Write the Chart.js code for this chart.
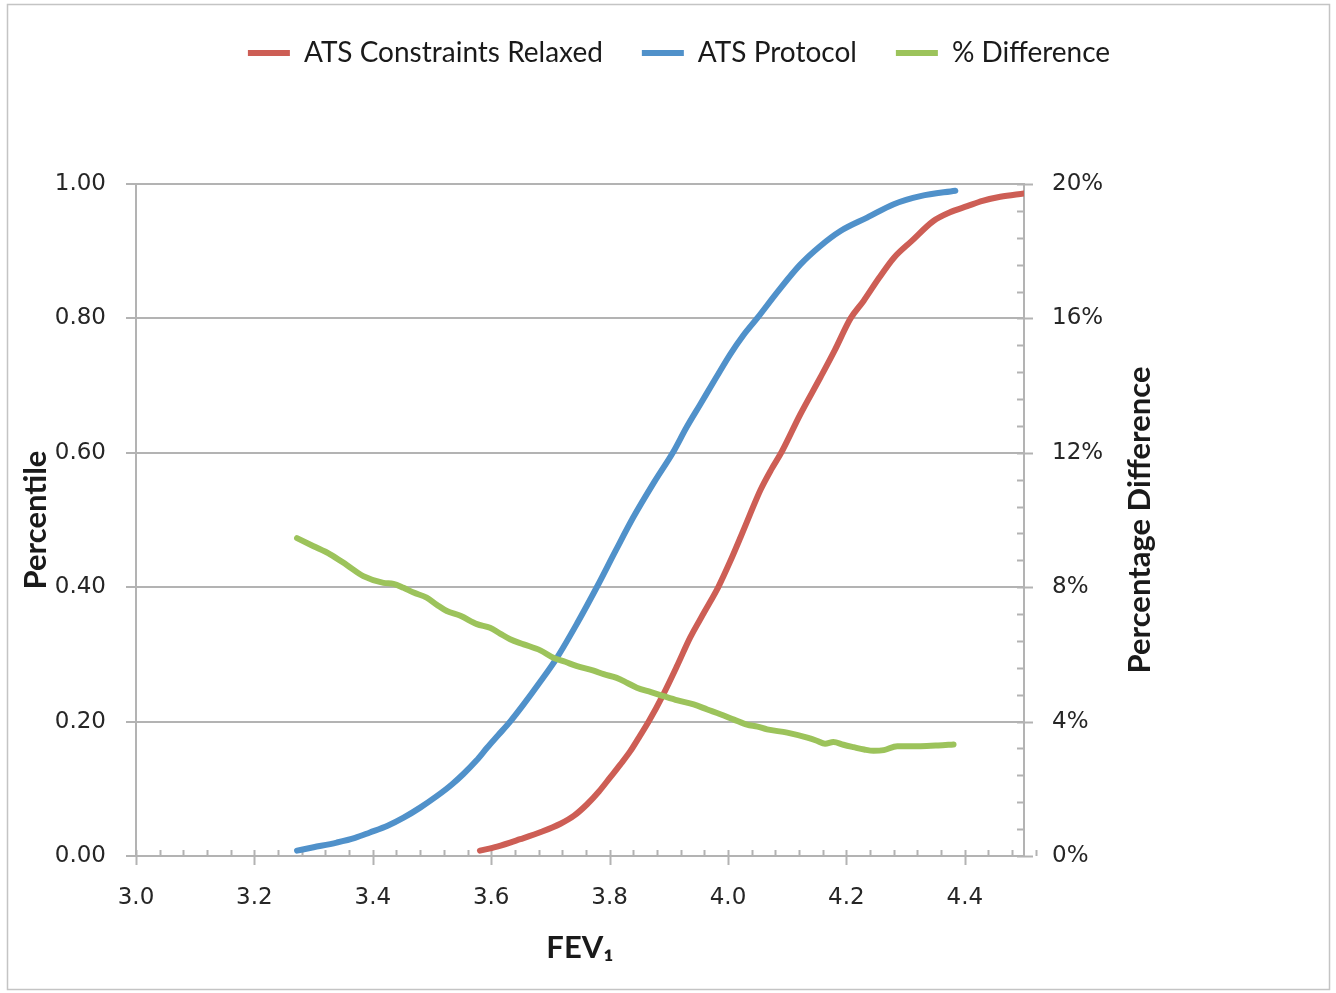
<!DOCTYPE html>
<html><head><meta charset="utf-8">
<script src="https://cdn.jsdelivr.net/npm/chart.js@4"></script>
<style>html,body{margin:0;padding:0;background:#fff}</style>
</head><body>
<canvas id="c" width="1336" height="993"></canvas>
<script>
// ---- data ----
const seriesNames = ['ATS Constraints Relaxed', 'ATS Protocol', '% Difference'];
const relaxedFEV = [3.581,3.610,3.649,3.685,3.717,3.740,3.762,3.782,3.801,3.818,3.835,3.850,3.866,3.891,3.914,3.936,3.960,3.984,4.003,4.021,4.037,4.055,4.073,4.091,4.122,4.156,4.180,4.207,4.229,4.255,4.280,4.310,4.347,4.375,4.404,4.430,4.460,4.500];
const relaxedPct = [0.008,0.014,0.025,0.036,0.048,0.060,0.077,0.096,0.117,0.136,0.156,0.177,0.200,0.241,0.283,0.325,0.363,0.401,0.437,0.474,0.508,0.545,0.575,0.602,0.657,0.712,0.752,0.800,0.826,0.860,0.890,0.915,0.945,0.958,0.967,0.975,0.981,0.986];
const protocolFEV = [3.272,3.300,3.339,3.370,3.395,3.425,3.452,3.480,3.508,3.533,3.553,3.575,3.593,3.612,3.632,3.655,3.680,3.711,3.745,3.779,3.810,3.840,3.875,3.908,3.930,3.953,3.980,4.004,4.026,4.049,4.085,4.122,4.155,4.190,4.235,4.280,4.325,4.384];
const protocolPct = [0.008,0.013,0.020,0.027,0.035,0.045,0.057,0.072,0.089,0.106,0.122,0.142,0.161,0.180,0.200,0.226,0.256,0.295,0.346,0.401,0.454,0.504,0.556,0.602,0.638,0.672,0.712,0.747,0.775,0.800,0.841,0.880,0.907,0.930,0.950,0.970,0.982,0.990];
const diffFEV = [3.272,3.300,3.328,3.356,3.384,3.418,3.435,3.452,3.469,3.491,3.508,3.525,3.548,3.576,3.598,3.615,3.632,3.655,3.683,3.705,3.725,3.745,3.773,3.790,3.812,3.830,3.846,3.870,3.891,3.915,3.942,3.965,3.987,4.010,4.032,4.050,4.066,4.100,4.134,4.150,4.164,4.178,4.195,4.212,4.230,4.246,4.263,4.286,4.325,4.355,4.381];
const diffPct = [9.46,9.22,8.98,8.66,8.33,8.13,8.10,7.98,7.84,7.69,7.48,7.29,7.15,6.90,6.79,6.62,6.45,6.30,6.12,5.90,5.78,5.65,5.52,5.41,5.30,5.15,5.01,4.88,4.76,4.63,4.51,4.36,4.22,4.06,3.91,3.85,3.77,3.67,3.52,3.43,3.34,3.39,3.31,3.24,3.17,3.13,3.15,3.27,3.27,3.29,3.32];
const xTickValues = [3.0,3.2,3.4,3.6,3.8,4.0,4.2,4.4];
const yTickValues = [0,0.2,0.4,0.6,0.8,1.0];
const y2TickValues = [0,4,8,12,16,20];
const xTitle = 'FEV\u2081';
const yTitle = 'Percentile';
const y2Title = 'Percentage Difference';

// ---- style ----
const GRID = '#b3b3b3';
const TICKFONT = {family: '"DejaVu Sans", Verdana, sans-serif', size: 23};
const TITLEFONT = {family: 'Lato, "Open Sans", sans-serif', size: 31, weight: 'bold'};
const X_MIN = 3.0, X_MAX = 4.5, X_MINOR = 0.04;
const Y2_MAX = 20, Y2_MINOR = 0.8;
const PAD_L = 22;

const pts = (xs, ys) => xs.map((x, i) => ({x, y: ys[i]}));
const fixedTicks = arr => s => { s.ticks = arr.map(v => ({value: v})); };

const bgPlugin = {
  id: 'bg',
  beforeDraw(chart) {
    const ctx = chart.ctx;
    ctx.save();
    ctx.fillStyle = '#fff';
    ctx.fillRect(0, 0, chart.width, chart.height);
    ctx.strokeStyle = '#c4c4c4';
    ctx.lineWidth = 1.5;
    ctx.strokeRect(7.5, 4.5, chart.width - 14, chart.height - 8);
    ctx.restore();
  }
};

const tickPlugin = {
  id: 'minorTicks',
  beforeDatasetsDraw(chart) {
    const ctx = chart.ctx, xs = chart.scales.x, y2 = chart.scales.y2, a = chart.chartArea;
    ctx.save();
    ctx.strokeStyle = GRID;
    ctx.lineWidth = 2;
    ctx.beginPath();
    const nX = Math.round((X_MAX - X_MIN) / X_MINOR);
    for (let i = 0; i <= nX; i++) {
      const v = X_MIN + i * X_MINOR;
      const px = Math.round(xs.getPixelForValue(v)) + 0.5;
      const major = (i % 5 === 0);
      ctx.moveTo(px, a.bottom - 6);
      ctx.lineTo(px, a.bottom + (major ? 9 : 0));
    }
    const nY = Math.round(Y2_MAX / Y2_MINOR);
    for (let i = 0; i <= nY; i++) {
      const v = i * Y2_MINOR;
      const py = Math.round(y2.getPixelForValue(v)) + 0.5;
      const major = (i % 5 === 0);
      ctx.moveTo(a.right - 7, py);
      ctx.lineTo(a.right + (major ? 9 : 0), py);
    }
    ctx.stroke();
    ctx.restore();
  },
  afterDraw(chart) {
    const ctx = chart.ctx, a = chart.chartArea, y2 = chart.scales.y2;
    ctx.save();
    ctx.fillStyle = '#1a1a1a';
    ctx.font = 'bold 31px Lato, "Open Sans", sans-serif';
    ctx.textAlign = 'center';
    ctx.textBaseline = 'middle';
    ctx.translate(y2.left + 116, (a.top + a.bottom) / 2);
    ctx.rotate(-Math.PI / 2);
    ctx.fillText(y2Title, 0, 0);
    ctx.restore();
  }
};

new Chart(document.getElementById('c'), {
  type: 'line',
  data: {
    datasets: [
      {label: seriesNames[0], data: pts(relaxedFEV, relaxedPct), xAxisID: 'x', yAxisID: 'y', borderColor: '#CD5E55', backgroundColor: '#CD5E55', order: 2},
      {label: seriesNames[1], data: pts(protocolFEV, protocolPct), xAxisID: 'x', yAxisID: 'y', borderColor: '#5091CA', backgroundColor: '#5091CA', order: 2},
      {label: seriesNames[2], data: pts(diffFEV, diffPct), xAxisID: 'x', yAxisID: 'y2', borderColor: '#9CC35B', backgroundColor: '#9CC35B', order: 1}
    ]
  },
  options: {
    responsive: false,
    animation: false,
    events: [],
    layout: {padding: {left: PAD_L, right: 0, top: 0, bottom: 0}},
    datasets: {line: {borderWidth: 6, pointRadius: 0, fill: false, cubicInterpolationMode: 'monotone', borderCapStyle: 'round', borderJoinStyle: 'round'}},
    plugins: {
      tooltip: {enabled: false},
      legend: {
        position: 'top',
        align: 'center',
        labels: {
          usePointStyle: true,
          pointStyle: 'line',
          pointStyleWidth: 42,
          padding: 39,
          color: '#1a1a1a',
          font: {family: 'Lato, "Open Sans", sans-serif', size: 28},
          sort: (a, b) => a.datasetIndex - b.datasetIndex
        }
      }
    },
    scales: {
      x: {
        type: 'linear', position: 'bottom', min: X_MIN, max: X_MAX,
        afterBuildTicks: fixedTicks(xTickValues),
        grid: {display: false, drawTicks: false},
        border: {display: true, color: GRID, width: 2},
        ticks: {font: TICKFONT, color: '#262626', padding: 28, maxRotation: 0, callback: v => v.toFixed(1)},
        title: {display: true, text: xTitle, font: TITLEFONT, color: '#1a1a1a', padding: {top: 0, bottom: 26}},
        afterFit: s => { s.height = 137; }
      },
      top: {
        type: 'linear', position: 'top', display: true,
        grid: {display: false, drawTicks: false}, border: {display: false}, ticks: {display: false},
        afterFit: s => { s.height = 107; }
      },
      y: {
        type: 'linear', position: 'left', min: 0, max: 1,
        afterBuildTicks: fixedTicks(yTickValues),
        grid: {display: true, color: GRID, lineWidth: 2, drawTicks: true, tickLength: 10},
        border: {display: true, color: GRID, width: 2},
        ticks: {font: TICKFONT, color: '#262626', padding: 20, callback: v => v.toFixed(2)},
        title: {display: true, text: yTitle, font: TITLEFONT, color: '#1a1a1a', padding: {top: 17 - PAD_L, bottom: 0}},
        afterFit: s => { s.width = 136 - PAD_L; }
      },
      y2: {
        type: 'linear', position: 'right', min: 0, max: Y2_MAX,
        afterBuildTicks: fixedTicks(y2TickValues),
        grid: {display: false, drawTicks: false},
        border: {display: true, color: GRID, width: 2},
        ticks: {font: TICKFONT, color: '#262626', padding: 28, callback: v => v + '%'},
        afterFit: s => { s.width = 312; }
      }
    }
  },
  plugins: [bgPlugin, tickPlugin]
});
</script>
</body></html>
